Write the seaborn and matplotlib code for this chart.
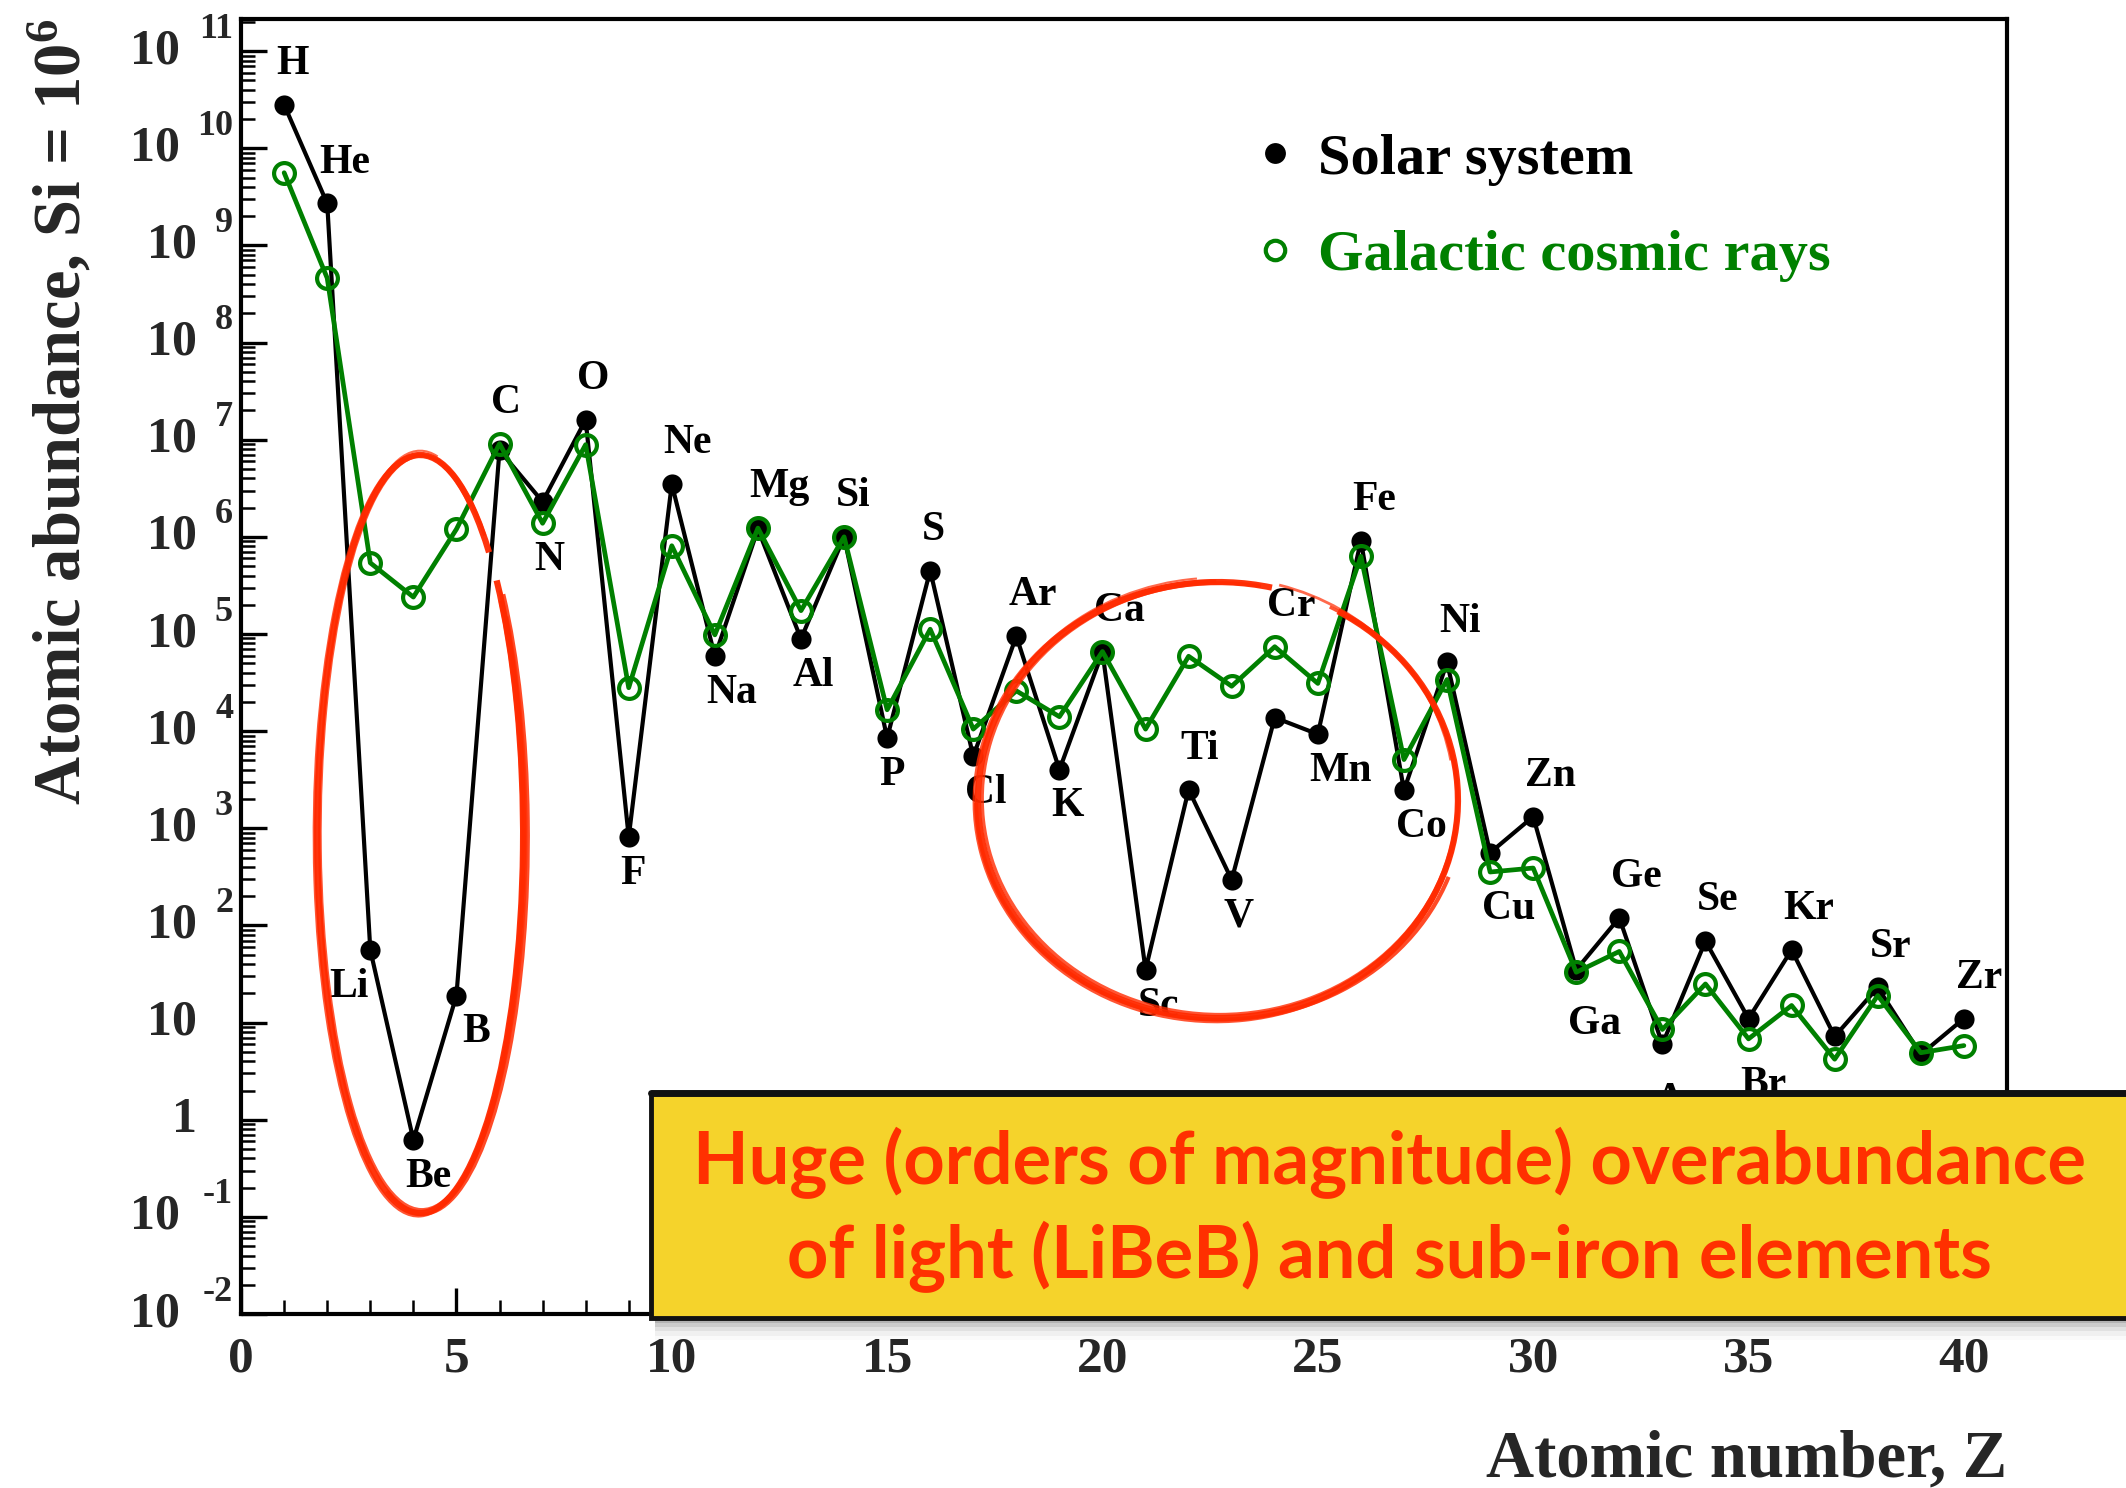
import math
import matplotlib
matplotlib.use("Agg")
import matplotlib.pyplot as plt
import pandas as pd
import seaborn as sns
from matplotlib.patches import Arc, Rectangle
from matplotlib.lines import Line2D
from matplotlib.ticker import FixedLocator, LogLocator, NullFormatter, MultipleLocator

# ---------------------------------------------------------------- data
elements = ["H", "He", "Li", "Be", "B", "C", "N", "O", "F", "Ne",
            "Na", "Mg", "Al", "Si", "P", "S", "Cl", "Ar", "K", "Ca",
            "Sc", "Ti", "V", "Cr", "Mn", "Fe", "Co", "Ni", "Cu", "Zn",
            "Ga", "Ge", "As", "Se", "Br", "Kr", "Rb", "Sr", "Y", "Zr"]
atomic_number = list(range(1, 41))

# abundances normalised to Si = 1e6
solar_system = [2.8e10, 2.7e9, 56, 0.62, 19, 7.8e6, 2.3e6, 1.6e7, 810, 3.5e6,
                5.9e4, 1.2e6, 8.9e4, 1.0e6, 8.5e3, 4.5e5, 5.5e3, 9.5e4, 4.0e3, 6.5e4,
                35, 2.5e3, 295, 1.38e4, 9.3e3, 9.1e5, 2.45e3, 5.1e4, 560, 1.32e3,
                35, 120, 6.0, 69, 11, 56, 7.2, 23, 4.7, 11]
cosmic_rays = [5.6e9, 4.6e8, 5.4e5, 2.4e5, 1.2e6, 9.1e6, 1.38e6, 8.9e6, 2.8e4, 8.1e5,
               9.8e4, 1.23e6, 1.74e5, 1.0e6, 1.66e4, 1.12e5, 1.05e4, 2.6e4, 1.41e4, 6.6e4,
               1.05e4, 5.9e4, 2.9e4, 7.4e4, 3.1e4, 6.3e5, 5.1e3, 3.4e4, 355, 390,
               33, 54, 8.5, 25, 6.8, 15, 4.2, 19, 4.9, 5.8]

x_ticks = [0, 5, 10, 15, 20, 25, 30, 35, 40]
decade_exponents = list(range(-2, 12))

series_names = ["Solar system", "Galactic cosmic rays"]
note_lines = ["Huge (orders of magnitude) overabundance",
              "of light (LiBeB) and sub-iron elements"]

# ---------------------------------------------------------------- style
sns.set_theme(style="ticks")
plt.rcParams["font.family"] = ["Liberation Serif", "DejaVu Serif"]
plt.rcParams["font.weight"] = "bold"
plt.rcParams["mathtext.fontset"] = "custom"
plt.rcParams["mathtext.bf"] = "Liberation Serif:bold"
plt.rcParams["mathtext.rm"] = "Liberation Serif:bold"
plt.rcParams["mathtext.it"] = "Liberation Serif:bold"

GREEN = "#008000"
RED = "#ff2a00"

fig = plt.figure(figsize=(21.26, 14.88), dpi=100)
ax = fig.add_axes([0.1134, 0.1169, 0.8306, 0.8703])

df_solar = pd.DataFrame({"Z": atomic_number, "abundance": solar_system})
df_gcr = pd.DataFrame({"Z": atomic_number, "abundance": cosmic_rays})

sns.lineplot(data=df_solar, x="Z", y="abundance", ax=ax, color="black",
             linewidth=3.0, marker="o", markersize=14.5, markeredgewidth=0,
             markerfacecolor="black", legend=False, zorder=3)
sns.lineplot(data=df_gcr, x="Z", y="abundance", ax=ax, color=GREEN,
             linewidth=3.4, marker="o", markersize=15, markeredgewidth=3.0,
             markerfacecolor="none", markeredgecolor=GREEN, legend=False, zorder=4)

ax.set_yscale("log")
ax.set_xlim(0, 41)
ax.set_ylim(1e-2, 10 ** 11.33)

for side in ["left", "right", "top", "bottom"]:
    ax.spines[side].set_linewidth(3.0)
    ax.spines[side].set_color("black")

ax.xaxis.set_major_locator(FixedLocator(x_ticks))
ax.xaxis.set_minor_locator(MultipleLocator(1))
ax.set_xticklabels([str(t) for t in x_ticks])
ax.yaxis.set_major_locator(FixedLocator([10.0 ** k for k in decade_exponents]))
ax.yaxis.set_minor_locator(LogLocator(base=10, subs=range(2, 10), numticks=100))
ax.yaxis.set_major_formatter(NullFormatter())
ax.yaxis.set_minor_formatter(NullFormatter())

ax.tick_params(which="both", direction="in", top=False, right=False,
               left=True, bottom=True, color="black")
ax.tick_params(which="major", length=19, width=2.4, labelsize=37, pad=16)
ax.tick_params(which="minor", length=10, width=1.8)
for lab in ax.get_xticklabels():
    lab.set_fontweight("bold")

# decade labels on the logarithmic axis
for k in decade_exponents:
    y = 10.0 ** k
    if k in (0, 1):
        ax.annotate("1" if k == 0 else "10", xy=(0, y),
                    xycoords=("axes fraction", "data"), xytext=(-31.7, 0),
                    textcoords="offset points", ha="right", va="center",
                    fontsize=36, fontweight="bold", annotation_clip=False)
        continue
    exp = str(k)
    base_dx = -43.9 if len(exp) > 1 else -31.7
    ax.annotate("10", xy=(0, y), xycoords=("axes fraction", "data"),
                xytext=(base_dx, 0), textcoords="offset points",
                ha="right", va="center", fontsize=36, fontweight="bold",
                annotation_clip=False)
    ax.annotate(exp, xy=(0, y), xycoords=("axes fraction", "data"),
                xytext=(-5.8, 15.8), textcoords="offset points",
                ha="right", va="center", fontsize=26, fontweight="bold",
                annotation_clip=False)

ax.set_xlabel("Atomic number, Z", fontsize=48, fontweight="bold",
              ha="right", va="center")
ax.xaxis.set_label_coords(1.0, -0.113)
ax.set_ylabel(r"Atomic abundance, Si = $\mathbf{10^{6}}$", fontsize=48,
              fontweight="bold", ha="right", va="center")
ax.yaxis.set_label_coords(-0.102, 1.0)

# element names next to the points
above = {"H", "He", "C", "O", "Ne", "Mg", "Si", "S", "Ar", "Ca", "Cr", "Fe",
         "Ni", "Zn", "Ge", "Se", "Kr", "Sr", "Zr"}
unlabelled = {"Rb", "Y"}
dx_override = {"Li": -29.3, "B": 3.9}
dy_override = {"Ga": -37.0, "As": -41.0, "Br": -33.0}
for z, el, s, c in zip(atomic_number, elements, solar_system, cosmic_rays):
    if el in unlabelled:
        continue
    if el == "Ti":
        anchor, dy = s, 29.3
    elif el in above:
        anchor, dy = max(s, c), 29.3
    else:
        anchor, dy = min(s, c), -26.4
    dy = dy_override.get(el, dy)
    dx = dx_override.get(el, -5.9)
    ax.annotate(el, xy=(z, anchor), xytext=(dx, dy), textcoords="offset points",
                ha="left", va="center", fontsize=30, fontweight="bold",
                color="black", zorder=5)

# legend
handles = [Line2D([], [], linestyle="none", marker="o", markersize=15,
                  markerfacecolor="black", markeredgewidth=0),
           Line2D([], [], linestyle="none", marker="o", markersize=14,
                  markerfacecolor="none", markeredgecolor=GREEN,
                  markeredgewidth=3.0)]
ax.legend(handles, series_names, loc="center left",
          bbox_to_anchor=(0.5756, 0.8544), frameon=False,
          handlelength=0.6, handletextpad=0.44, labelspacing=0.75,
          borderpad=0, borderaxespad=0, labelcolor=["black", GREEN],
          prop={"weight": "bold", "size": 42})


# hand-drawn style rings around the LiBeB and sub-iron groups
def polar_from_param(t, w, h):
    """Arc angles are polar angles in the ellipse frame; convert a parametric one."""
    r = math.radians(t)
    return math.degrees(math.atan2(math.sin(r) * h, math.cos(r) * w))


def sketch_ring(cx, cy, w, h, strokes):
    for (ox, oy, sw, sh, lw, al, t1, t2) in strokes:
        ww, hh = w * sw, h * sh
        a1 = polar_from_param(t1, ww, hh)
        a2 = polar_from_param(t2, ww, hh)
        if a2 <= a1:
            a2 += 360
        ax.add_patch(Arc((cx + ox, cy + oy), ww, hh, angle=0,
                         theta1=a1, theta2=a2, transform=ax.transAxes,
                         color=RED, lw=lw, alpha=al, clip_on=False, zorder=6))


sketch_ring(0.1014, 0.3707, 0.1166, 0.5853, [
    (0.000, 0.000, 1.000, 1.000, 4.5, 0.95, 48, 402),
    (0.001, 0.001, 0.990, 0.995, 2.5, 0.80, 52, 400),
    (-0.001, -0.001, 1.010, 1.004, 2.5, 0.80, 60, 398),
    (0.0015, -0.002, 1.020, 0.995, 3.0, 0.85, 250, 400),
    (0.000, 0.000, 1.030, 1.000, 2.0, 0.70, 300, 395),
    (0.000, 0.001, 0.980, 1.008, 1.5, 0.70, 80, 240),
])
sketch_ring(0.5532, 0.3969, 0.2718, 0.3367, [
    (0.000, 0.000, 1.000, 1.000, 4.5, 0.95, 77, 420),
    (0.001, 0.001, 0.990, 0.990, 2.5, 0.80, 80, 418),
    (-0.001, -0.001, 1.008, 1.010, 2.5, 0.80, 90, 422),
    (0.001, -0.002, 1.015, 0.995, 3.0, 0.85, 180, 340),
    (0.000, 0.001, 0.985, 1.015, 2.0, 0.70, 10, 75),
    (0.000, 0.000, 1.005, 1.020, 1.5, 0.70, 95, 170),
])

# annotation panel
bx0, by0, bh = 0.306, 0.1142, 0.1512
for i, a in enumerate([0.12, 0.09, 0.06, 0.04, 0.02]):
    fig.add_artist(Rectangle((bx0 + 0.002, by0 - 0.003 * (i + 1)), 1.0, bh,
                             transform=fig.transFigure, facecolor="black",
                             edgecolor="none", alpha=a, zorder=8))
fig.add_artist(Rectangle((bx0, by0), 0.75, bh, transform=fig.transFigure,
                         facecolor="#f5d32b", edgecolor="#111111",
                         linewidth=3.5, zorder=9))
fig.add_artist(Line2D([bx0, 1.0], [by0 + bh, by0 + bh], transform=fig.transFigure,
                      color="#111111", linewidth=5, zorder=9.5))
for text, yy in zip(note_lines, [0.2184, 0.1552]):
    fig.text(0.6538, yy, text, ha="center", va="center", fontsize=52,
             fontweight="bold", color="#ff3000", family=["Lato", "DejaVu Sans"],
             zorder=10)

fig.savefig("out.png", dpi=100)
